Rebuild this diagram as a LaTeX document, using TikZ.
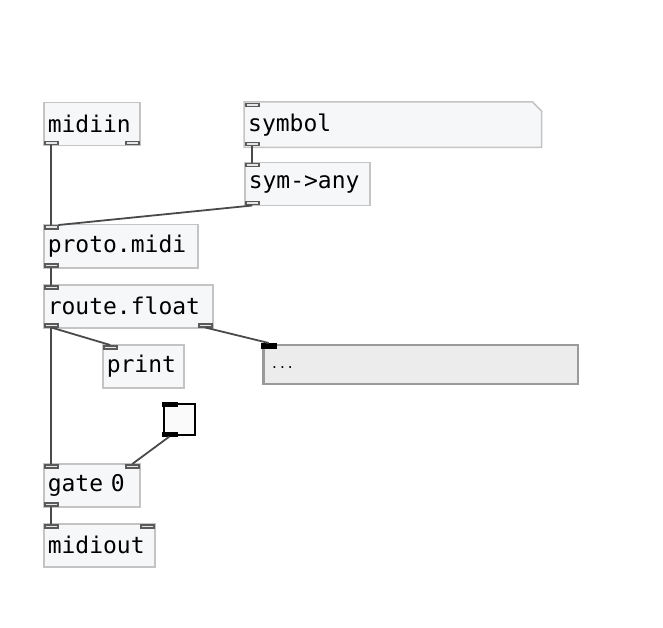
\documentclass[tikz,border=0pt]{standalone}
\usepackage{fontspec}
\setmonofont{DejaVu Sans Mono}
\definecolor{boxfill}{HTML}{F6F7F9}
\definecolor{boxline}{HTML}{C4C4C4}
\definecolor{portline}{HTML}{5A5A5A}
\definecolor{portfill}{HTML}{E6E6E6}
\definecolor{wire}{HTML}{4A4A4A}
\definecolor{listfill}{HTML}{ECECEC}
\definecolor{listline}{HTML}{9A9A9A}
\tikzset{
  obj/.style={draw=boxline, fill=boxfill, line width=1.5pt, inner sep=0pt, anchor=north west,
    font=\ttfamily\fontsize{23}{23}\selectfont, minimum height=#1},
  obj/.default=43pt,
  port/.style={draw=portline, fill=portfill, line width=1.5pt, inner sep=0pt,
    minimum width=13pt, minimum height=3pt},
  bport/.style={draw=black, fill=black, inner sep=0pt, minimum width=15pt, minimum height=4.5pt},
  wireline/.style={draw=wire, line width=1.8pt},
}
\begin{document}
\begin{tikzpicture}[x=1pt,y=-1pt]
\useasboundingbox[fill=white] (0,0) rectangle (663,628);

% boxes
\node[obj, minimum width=96pt, text width=90pt, align=left] (midiin) at (43,102) {\hspace*{1pt}midiin};
\node[obj, minimum width=154pt, text width=148pt, align=left] (proto) at (43,224) {\hspace*{1pt}proto.midi};
\node[obj, minimum width=169pt, text width=163pt, align=left] (route) at (43,284) {\hspace*{1pt}route.float};
\node[obj, minimum width=81pt, text width=75pt, align=left] (print) at (102,344) {\hspace*{1pt}print};
\node[obj, minimum width=125pt, text width=119pt, align=left] (symany) at (244,162) {\hspace*{1pt}sym->any};
\node[obj, minimum width=96pt, text width=90pt, align=left] (gate) at (43,463) {\hspace*{1pt}gate 0};
\node[obj, minimum width=111pt, text width=105pt, align=left] (midiout) at (43,523) {\hspace*{1pt}midiout};

% symbol atom with cut corner
\node[obj=44pt, draw=none, fill=none, minimum width=296pt] (symbol) at (244,102) {};
\draw[draw=boxline, fill=boxfill, line width=1.5pt]
  (symbol.north west) -- ([xshift=-9pt]symbol.north east) -- ([yshift=-9pt]symbol.north east)
  -- (symbol.south east) -- (symbol.south west) -- cycle;
\node[font=\ttfamily\fontsize{23}{23}\selectfont, anchor=west, inner sep=0pt] (symboltext) at ([xshift=4pt]symbol.west) {symbol};

% list box
\node[draw=listline, fill=listfill, line width=2pt, inner sep=0pt, anchor=north west,
  minimum width=315pt, minimum height=39pt] (list) at (262,344) {};
\draw[listline, line width=3pt] ([xshift=1pt]list.north west) -- ([xshift=1pt]list.south west);
\node[font=\ttfamily\fontsize{13}{13}\selectfont, anchor=base west, inner sep=0pt] (listtext) at (270.5,368) {...};

% toggle
\node[draw=black, fill=white!98!black, line width=2.2pt, inner sep=0pt, anchor=north west,
  minimum width=31pt, minimum height=31pt] (tgl) at (162.5,402.5) {};

% ports
\node[port, anchor=south west] (midiin-o0) at ([xshift=1pt,yshift=1pt]midiin.south west) {};
\node[port, anchor=south east] (midiin-o1) at ([xshift=-1pt,yshift=1pt]midiin.south east) {};
\node[port, anchor=north west] (proto-i0) at ([xshift=1pt,yshift=-1pt]proto.north west) {};
\node[port, anchor=south west] (proto-o0) at ([xshift=1pt,yshift=1pt]proto.south west) {};
\node[port, anchor=north west] (route-i0) at ([xshift=1pt,yshift=-1pt]route.north west) {};
\node[port, anchor=south west] (route-o0) at ([xshift=1pt,yshift=1pt]route.south west) {};
\node[port, anchor=south east] (route-o1) at ([xshift=-1pt,yshift=1pt]route.south east) {};
\node[port, anchor=north west] (print-i0) at ([xshift=1pt,yshift=-1pt]print.north west) {};
\node[port, anchor=north west] (symbol-i0) at ([xshift=1pt,yshift=-1pt]symbol.north west) {};
\node[port, anchor=south west] (symbol-o0) at ([xshift=1pt,yshift=1pt]symbol.south west) {};
\node[port, anchor=north west] (symany-i0) at ([xshift=1pt,yshift=-1pt]symany.north west) {};
\node[port, anchor=south west] (symany-o0) at ([xshift=1pt,yshift=1pt]symany.south west) {};
\node[port, anchor=north west] (gate-i0) at ([xshift=1pt,yshift=-1pt]gate.north west) {};
\node[port, anchor=north east] (gate-i1) at ([xshift=-1pt,yshift=-1pt]gate.north east) {};
\node[port, anchor=south west] (gate-o0) at ([xshift=1pt,yshift=1pt]gate.south west) {};
\node[port, anchor=north west] (midiout-i0) at ([xshift=1pt,yshift=-1pt]midiout.north west) {};
\node[port, anchor=north east] (midiout-i1) at ([xshift=-1pt,yshift=-1pt]midiout.north east) {};
\node[bport, anchor=north west] (list-i0) at ([xshift=-1pt,yshift=1pt]list.north west) {};
\node[bport, anchor=north west] (tgl-i0) at ([xshift=-1pt,yshift=1pt]tgl.north west) {};
\node[bport, anchor=south west] (tgl-o0) at ([xshift=-1pt,yshift=-1pt]tgl.south west) {};

% wires
\draw[wireline] (midiin-o0.south) -- (proto-i0.north);
\draw[wireline] (symbol-o0.south) -- (symany-i0.north);
\draw[wireline] (symany-o0.south) -- (proto-i0.north east);
\draw[wireline] (proto-o0.south) -- (route-i0.north);
\draw[wireline] (route-o0.south) -- (gate-i0.north);
\draw[wireline] (route-o0.south) -- (print-i0.north);
\draw[wireline] (route-o1.south) -- (list-i0.north);
\draw[wireline] (tgl-o0.south) -- (gate-i1.north);
\draw[wireline] (gate-o0.south) -- (midiout-i0.north);
\end{tikzpicture}
\end{document}
